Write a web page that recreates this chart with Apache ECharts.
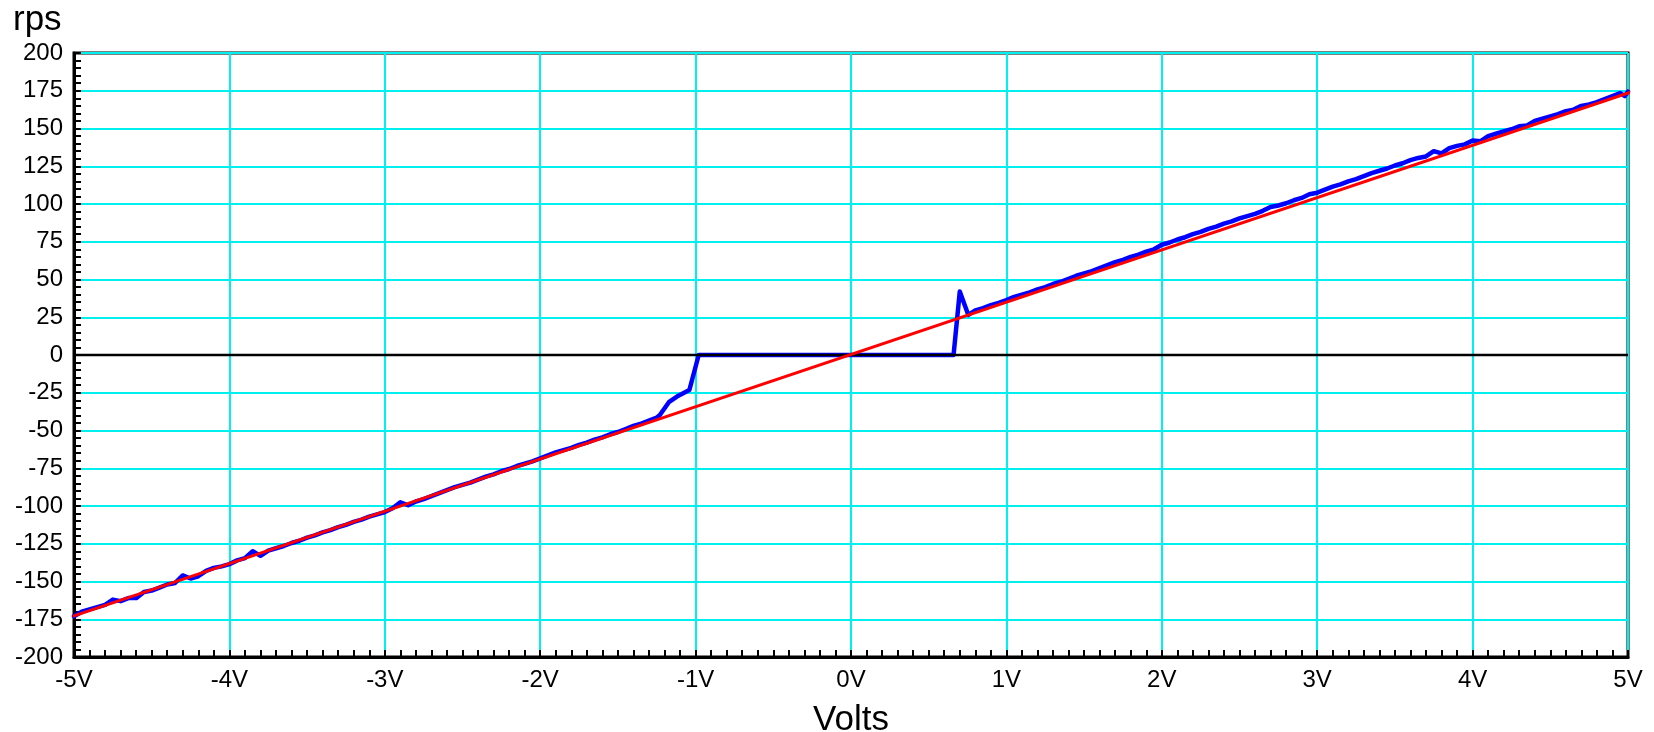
<!DOCTYPE html>
<html>
<head>
<meta charset="utf-8">
<script src="https://cdn.jsdelivr.net/npm/echarts@6/dist/echarts.min.js"></script>
<style>
html,body{margin:0;padding:0;background:#fff;}
#chart{width:1654px;height:732px;}
</style>
</head>
<body>
<div id="chart"></div>
<script>
// ---- data ----
const measuredVolts = [
  -5.00,-4.95,-4.90,-4.85,-4.80,-4.75,-4.70,-4.65,-4.60,-4.55,-4.50,-4.45,-4.40,-4.35,-4.30,-4.25,-4.20,-4.15,-4.10,-4.05,
  -4.00,-3.95,-3.90,-3.85,-3.80,-3.75,-3.70,-3.65,-3.60,-3.55,-3.50,-3.45,-3.40,-3.35,-3.30,-3.25,-3.20,-3.15,-3.10,-3.05,
  -3.00,-2.95,-2.90,-2.85,-2.80,-2.75,-2.70,-2.65,-2.60,-2.55,-2.50,-2.45,-2.40,-2.35,-2.30,-2.25,-2.20,-2.15,-2.10,-2.05,
  -2.00,-1.95,-1.90,-1.85,-1.80,-1.75,-1.70,-1.65,-1.60,-1.55,-1.50,-1.45,-1.40,-1.35,-1.30,-1.25,-1.23,-1.17,-1.12,-1.04,
  -0.98,-0.50,0.00,0.50,0.66,0.70,0.755,
  0.80,0.85,0.90,0.95,1.00,1.05,1.10,1.15,1.20,1.25,1.30,1.35,1.40,1.45,1.50,1.55,1.60,1.65,1.70,1.75,
  1.80,1.85,1.90,1.95,2.00,2.05,2.10,2.15,2.20,2.25,2.30,2.35,2.40,2.45,2.50,2.55,2.60,2.65,2.70,2.75,
  2.80,2.85,2.90,2.95,3.00,3.05,3.10,3.15,3.20,3.25,3.30,3.35,3.40,3.45,3.50,3.55,3.60,3.65,3.70,3.75,
  3.80,3.85,3.90,3.95,4.00,4.05,4.10,4.15,4.20,4.25,4.30,4.35,4.40,4.45,4.50,4.55,4.60,4.65,4.70,4.75,
  4.80,4.85,4.90,4.95,4.98,5.00
];
const measuredRps = [
  -173,-170,-168.5,-167,-165.5,-162,-163,-161,-161,-157,-156,-154,-152,-151,-146,-148,-146.5,-143,-141,-140,
  -138.5,-136,-134.5,-130,-133,-129.5,-128,-126.5,-124.5,-123,-121,-119.5,-117.5,-116,-114,-112.5,-110.5,-109,-107,-105.5,
  -104,-101.5,-97.5,-99.5,-97,-95.5,-93.5,-91.5,-89.5,-87.5,-86,-84.5,-82.5,-80.5,-79,-77,-75.5,-73.5,-72,-70.5,
  -68.5,-66.5,-64.5,-63,-61.5,-59.5,-58,-56,-54.5,-52.5,-51,-49,-47,-45.5,-43.5,-41.5,-39.7,-31,-27.5,-23.2,
  0,0,0,0,0,42,26.5,
  29.5,31,33,34.5,36.3,38.5,40,41.5,43.5,45,47,48.5,50.5,52.5,54,55.5,57.5,59.5,61.5,63,
  65,66.5,68.5,70,73,74.5,76.5,78,80,81.5,83.5,85,87,88.5,90.5,92,93.5,95.5,98,99,
  100.5,102.5,104,106.5,107.5,109.5,111.5,113,115,116.5,118.5,120.5,122,123.5,125.5,127,129,130.5,131.5,135,
  133.5,137,138.5,139.5,142,141.5,145,146.5,148,149.5,151.5,152,155,156.5,158,159.5,161.5,162.5,165,166,
  167.5,169.5,171.5,173.5,171.5,174.5
];
const fitVolts = [-5.0, 5.05];
const fitRps = [-172.8, 175.2];
const zeroVolts = [-5, 5];
const zeroRps = [0, 0];
const xMin = -5, xMax = 5, xStep = 1;
const yMin = -200, yMax = 200, yStep = 25;
const xUnit = 'V';
const xName = 'Volts';
const yName = 'rps';

const pairs = (xs, ys) => xs.map((x, i) => [x, ys[i]]);

const chart = echarts.init(document.getElementById('chart'), null, {renderer: 'canvas'});
const font = 'Liberation Sans, Arial, Helvetica, sans-serif';
chart.setOption({
  animation: false,
  backgroundColor: '#fff',
  title: {
    text: yName, left: 13, top: 3, padding: 0,
    textStyle: {fontFamily: font, fontSize: 35, fontWeight: 'normal', color: '#000'}
  },
  grid: {
    left: 74, right: 26, top: 53, bottom: 75,
    containLabel: false, outerBoundsMode: 'none',
    show: true, borderColor: '#000', borderWidth: 3, backgroundColor: 'transparent'
  },
  xAxis: {
    type: 'value', min: xMin, max: xMax, interval: xStep,
    name: xName, nameLocation: 'middle', nameGap: 46,
    nameTextStyle: {fontFamily: font, fontSize: 35, color: '#000'},
    axisLine: {show: true, onZero: false, lineStyle: {color: '#000', width: 3}},
    axisTick: {show: true, inside: true, length: 7, lineStyle: {color: '#000', width: 2}},
    minorTick: {show: true, splitNumber: 10, length: 7, lineStyle: {color: '#000', width: 2}},
    axisLabel: {fontFamily: font, fontSize: 24, color: '#000', margin: 11,
      formatter: v => v + xUnit},
    splitLine: {show: true, lineStyle: {color: '#00f0f0', width: 2}},
    minorSplitLine: {show: false}
  },
  yAxis: {
    type: 'value', min: yMin, max: yMax, interval: yStep,
    axisLine: {show: true, onZero: false, lineStyle: {color: '#000', width: 3}},
    axisTick: {show: true, inside: true, length: 7, lineStyle: {color: '#000', width: 2}},
    minorTick: {show: true, splitNumber: 5, length: 7, lineStyle: {color: '#000', width: 2}},
    axisLabel: {fontFamily: font, fontSize: 24, color: '#000', margin: 11},
    splitLine: {show: true, lineStyle: {color: '#00f0f0', width: 2}},
    minorSplitLine: {show: false}
  },
  series: [
    {
      type: 'line', data: pairs(measuredVolts, measuredRps), showSymbol: false, symbol: 'none',
      lineStyle: {color: '#0000ff', width: 4.5, join: 'round', cap: 'round'}, z: 2, silent: true
    },
    {
      type: 'line', data: pairs(zeroVolts, zeroRps), showSymbol: false, symbol: 'none',
      lineStyle: {color: '#000', width: 2.5}, z: 3, silent: true
    },
    {
      type: 'line', data: pairs(fitVolts, fitRps), showSymbol: false, symbol: 'none', clip: false,
      lineStyle: {color: '#ff0000', width: 3, cap: 'round'}, z: 4, silent: true
    }
  ]
});
</script>
</body>
</html>
